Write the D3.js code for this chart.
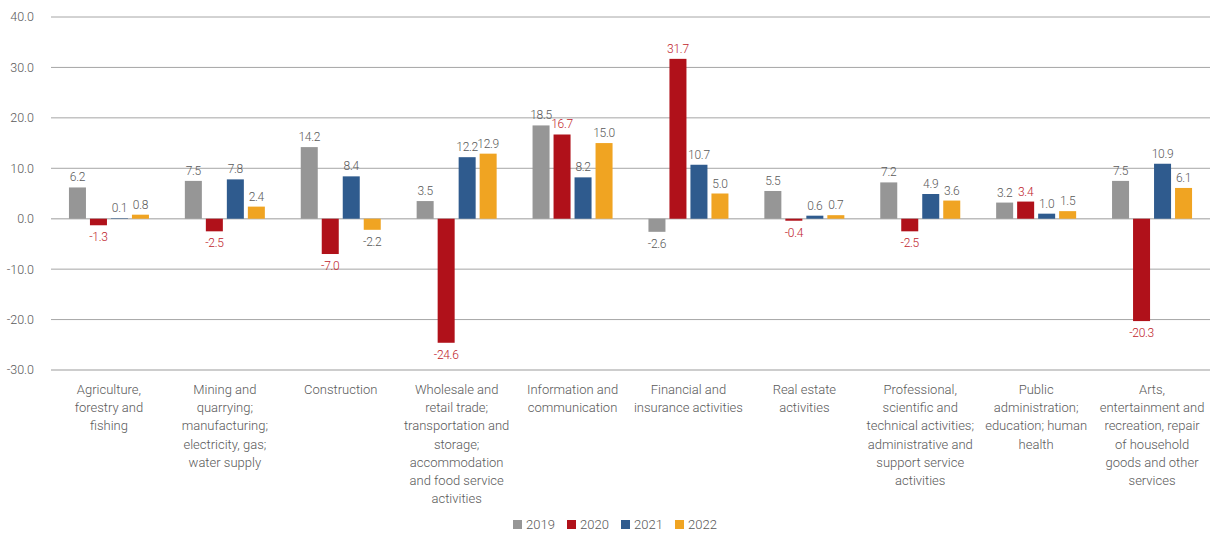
<!DOCTYPE html>
<html>
<head>
<meta charset="utf-8">
<script src="https://cdn.jsdelivr.net/npm/d3@7"></script>
<style>
  body { margin: 0; background: #fff; }
  text { font-family: "Roboto", sans-serif; font-weight: 300; }
</style>
</head>
<body>
<script>
const width = 1211;
const height = 534;

// Data
const categories = [
  ['Agriculture,', 'forestry and', 'fishing'],
  ['Mining and', 'quarrying;', 'manufacturing;', 'electricity, gas;', 'water supply'],
  ['Construction'],
  ['Wholesale and', 'retail trade;', 'transportation and', 'storage;', 'accommodation', 'and food service', 'activities'],
  ['Information and', 'communication'],
  ['Financial and', 'insurance activities'],
  ['Real estate', 'activities'],
  ['Professional,', 'scientific and', 'technical activities;', 'administrative and', 'support service', 'activities'],
  ['Public', 'administration;', 'education; human', 'health'],
  ['Arts,', 'entertainment and', 'recreation, repair', 'of household', 'goods and other', 'services']
];
const years = ['2019', '2020', '2021', '2022'];
const v2019 = [6.2, 7.5, 14.2, 3.5, 18.5, -2.6, 5.5, 7.2, 3.2, 7.5];
const v2020 = [-1.3, -2.5, -7.0, -24.6, 16.7, 31.7, -0.4, -2.5, 3.4, -20.3];
const v2021 = [0.1, 7.8, 8.4, 12.2, 8.2, 10.7, 0.6, 4.9, 1.0, 10.9];
const v2022 = [0.8, 2.4, -2.2, 12.9, 15.0, 5.0, 0.7, 3.6, 1.5, 6.1];
const yTicks = [40, 30, 20, 10, 0, -10, -20, -30];

const series = [v2019, v2020, v2021, v2022];
const colors = ['#969696', '#b0111a', '#2f5b8e', '#f0a422'];
const labelColors = ['#595959', '#c0232b', '#595959', '#595959'];

const margin = { left: 51, right: 1, top: 17, bottom: 164 };

const svg = d3.select('body')
  .append('svg')
  .attr('width', width)
  .attr('height', height);

const x = d3.scaleBand()
  .domain(d3.range(categories.length))
  .range([margin.left, width - margin.right]);

const xInner = d3.scaleBand()
  .domain(d3.range(years.length))
  .range([0, 80])
  .paddingInner(0.19);

const y = d3.scaleLinear()
  .domain([-30, 40])
  .range([370, margin.top]);

// Gridlines + y axis labels
const grid = svg.append('g');
grid.selectAll('line')
  .data(yTicks)
  .enter()
  .append('line')
  .attr('x1', margin.left)
  .attr('x2', width - margin.right)
  .attr('y1', d => y(d))
  .attr('y2', d => y(d))
  .style('stroke', d => (d === 0 || d === -30) ? '#bdbdbd' : '#a6a6a6')
  .style('stroke-width', d => (d === 0 || d === -30) ? 1.5 : 1);

grid.selectAll('text')
  .data(yTicks)
  .enter()
  .append('text')
  .attr('x', 34)
  .attr('y', d => y(d))
  .attr('dy', '0.35em')
  .attr('text-anchor', 'end')
  .style('font-size', '12.5px')
  .style('fill', '#595959')
  .text(d => d.toFixed(1));

// Bars
const groups = svg.append('g')
  .selectAll('g')
  .data(categories)
  .enter()
  .append('g')
  .attr('transform', (d, i) => `translate(${x(i) + (x.bandwidth() - 80) / 2},0)`);

groups.each(function (cat, i) {
  const g = d3.select(this);
  series.forEach((s, j) => {
    const v = s[i];
    g.append('rect')
      .attr('x', xInner(j))
      .attr('width', xInner.bandwidth())
      .attr('y', v >= 0 ? y(v) : y(0))
      .attr('height', Math.abs(y(v) - y(0)))
      .style('fill', colors[j]);
    g.append('text')
      .attr('x', xInner(j) + xInner.bandwidth() / 2)
      .attr('y', v >= 0 ? y(v) - 6 : y(v) + 16)
      .attr('text-anchor', 'middle')
      .style('font-size', '12px')
      .style('letter-spacing', '-0.3px')
      .style('fill', labelColors[j])
      .text(v.toFixed(1));
  });
});

// Category labels
const catLabels = svg.append('g')
  .selectAll('text')
  .data(categories)
  .enter()
  .append('text')
  .attr('x', (d, i) => x(i) + x.bandwidth() / 2)
  .attr('y', 394)
  .attr('text-anchor', 'middle')
  .style('font-size', '13px')
  .style('fill', '#595959');

catLabels.selectAll('tspan')
  .data(d => d)
  .enter()
  .append('tspan')
  .attr('x', function () { return d3.select(this.parentNode).attr('x'); })
  .attr('dy', (d, i) => i === 0 ? 0 : 18.2)
  .text(d => d);

// Legend
const legendX = d3.scaleBand()
  .domain(years)
  .range([513, 729]);

const legend = svg.append('g')
  .selectAll('g')
  .data(years)
  .enter()
  .append('g')
  .attr('transform', d => `translate(${legendX(d)},${520})`);

legend.append('rect')
  .attr('width', 9)
  .attr('height', 9)
  .style('fill', (d, i) => colors[i]);

legend.append('text')
  .attr('x', 13)
  .attr('y', 9)
  .style('font-size', '13px')
  .style('fill', '#595959')
  .text(d => d);
</script>
</body>
</html>
